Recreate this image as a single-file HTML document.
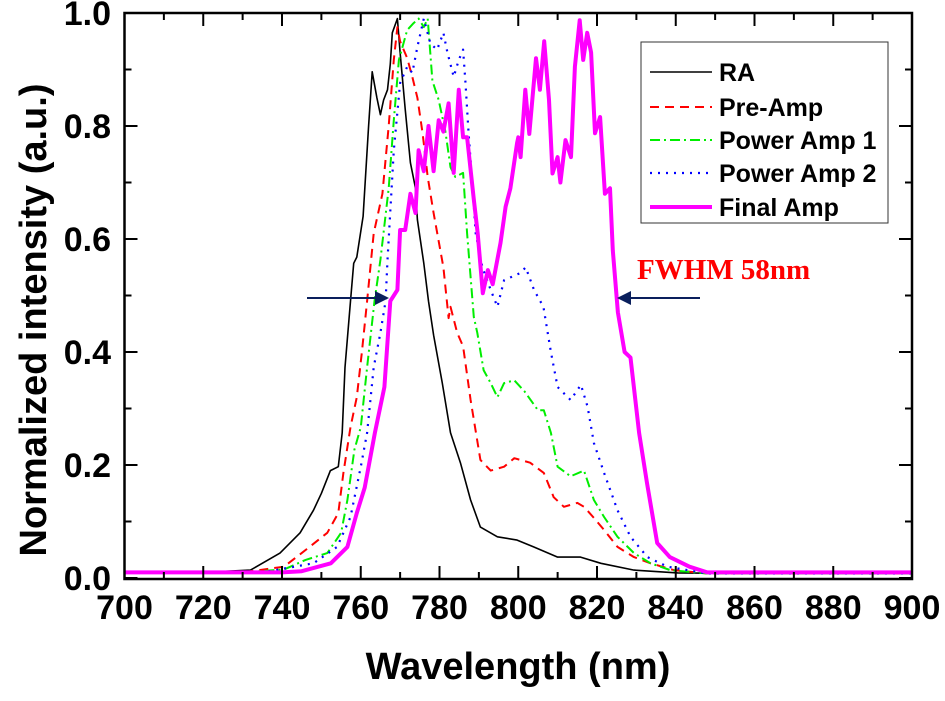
<!DOCTYPE html>
<html><head><meta charset="utf-8"><style>
html,body{margin:0;padding:0;background:#fff;}
svg text{font-family:"Liberation Sans",Arial,sans-serif;font-weight:bold;}
</style></head><body>
<svg id="chart" width="945" height="696" viewBox="0 0 945 696" xmlns="http://www.w3.org/2000/svg">
<g id="plot"></g>
<g id="axes"></g>
<g id="legend"></g>
<text x="518" y="679" font-size="38" text-anchor="middle">Wavelength (nm)</text>
<text transform="translate(46,320) rotate(-90)" font-size="38" text-anchor="middle">Normalized intensity (a.u.)</text>
<text x="637" y="279" font-size="29" fill="#ff0000" style="font-family:'Liberation Serif',serif">FWHM 58nm</text>
</svg>
<script>
const xTicks=[700,720,740,760,780,800,820,840,860,880,900];
const yTicks=[0.0,0.2,0.4,0.6,0.8,1.0];
const yTickLabels=["0.0","0.2","0.4","0.6","0.8","1.0"];
const seriesNames=["RA","Pre-Amp","Power Amp 1","Power Amp 2","Final Amp"];
const raX=[700,720,732,739.5,744.6,748,750,752.3,754.3,755.3,756,757.4,758.2,759,760.6,762,762.9,764.1,765,765.8,766.8,767.5,768,769.3,770,771.3,772.6,773.9,774.4,776,777.2,778.5,780.7,782.8,785.3,787.9,790.4,794.7,799.7,803.9,810,815.8,821,829.4,840.5,860,900];
const raY=[0.01,0.01,0.014,0.044,0.08,0.12,0.15,0.19,0.197,0.257,0.373,0.49,0.557,0.568,0.64,0.80,0.896,0.85,0.82,0.846,0.864,0.91,0.965,0.99,0.93,0.83,0.735,0.69,0.634,0.557,0.49,0.43,0.345,0.257,0.204,0.138,0.09,0.073,0.067,0.055,0.037,0.037,0.026,0.014,0.009,0.008,0.008];
const preX=[700,730,740.5,747,751.5,754.3,755.6,757.4,759,760.3,761.6,763.3,765.5,767.1,768.4,769.3,770,771.8,773.1,774.4,775.7,777,778.5,781,782.3,782.8,784.5,786,787.9,790.4,793,796.4,799,803,806.5,809,811.6,815,816.7,819,821.8,825.2,829.4,833.6,839.5,848,900];
const preY=[0.01,0.01,0.02,0.055,0.08,0.115,0.186,0.267,0.32,0.40,0.49,0.61,0.68,0.80,0.917,0.975,0.95,0.92,0.887,0.85,0.787,0.71,0.646,0.55,0.46,0.48,0.434,0.41,0.315,0.209,0.19,0.197,0.212,0.204,0.186,0.143,0.126,0.133,0.126,0.108,0.085,0.055,0.037,0.026,0.014,0.008,0.008];
const pa1X=[700,730,740.5,746,751.5,755,756.6,758.4,760,761.6,763.5,765,767.1,768.4,769.7,771.8,773.4,774.7,776,777,778.2,779.8,781.5,782.8,784,786,787,788.7,789.6,791.2,793,794.7,796.4,799,801.6,805,806.5,808.3,810,813.3,816.7,819.2,821.8,825.2,829.4,833.6,838.6,848,900];
const pa1Y=[0.01,0.01,0.015,0.032,0.044,0.08,0.138,0.227,0.267,0.373,0.49,0.563,0.69,0.81,0.917,0.97,0.982,0.99,0.975,0.99,0.88,0.846,0.79,0.727,0.71,0.717,0.61,0.462,0.434,0.368,0.345,0.32,0.345,0.35,0.33,0.297,0.297,0.257,0.197,0.18,0.19,0.138,0.108,0.073,0.044,0.026,0.014,0.008,0.008];
const pa2X=[700,735,748,754,757.4,760,761.6,763.3,765,766.3,766.8,768.4,770,771.8,773.1,774.4,776,777.7,779.4,781,782,783.6,784.9,786,786.6,787.4,788.3,789.2,790.9,793,794.7,796.4,800.6,801.9,804,806.4,808.3,810,813.3,815.9,817.6,819.2,821.8,825.2,828.5,832.8,837.9,848,900];
const pa2Y=[0.01,0.01,0.026,0.055,0.108,0.197,0.257,0.373,0.434,0.49,0.563,0.757,0.876,0.905,0.894,0.94,0.99,0.946,0.935,0.965,0.93,0.887,0.917,0.935,0.876,0.787,0.70,0.61,0.55,0.51,0.48,0.527,0.54,0.55,0.51,0.48,0.40,0.338,0.315,0.342,0.303,0.239,0.186,0.12,0.073,0.037,0.02,0.008,0.008];
const finX=[700,720,740,745,752.4,756.6,759,761,763.6,766,767.5,769.3,770,771.3,772.6,773.9,774.7,776,777.2,778.5,779.8,781,782.3,783.6,784.9,786,787,788.7,789.7,791,792.3,793.5,795.5,796.8,798,799.7,800,800.6,801.8,802.8,804.5,805.5,806.6,807.8,808.7,810,810.7,812,813.4,814.4,815.6,816.5,817.5,818.5,819.5,820.8,822,823.3,824,825.3,827,828.5,830.7,832.7,835.3,838.5,843.5,848,870,900];
const finY=[0.01,0.01,0.01,0.012,0.026,0.055,0.115,0.16,0.257,0.338,0.49,0.51,0.616,0.616,0.68,0.646,0.757,0.72,0.80,0.72,0.81,0.79,0.84,0.717,0.864,0.78,0.78,0.67,0.61,0.504,0.545,0.52,0.593,0.657,0.69,0.77,0.78,0.745,0.864,0.786,0.92,0.864,0.95,0.846,0.716,0.745,0.70,0.775,0.745,0.905,0.987,0.917,0.965,0.93,0.787,0.816,0.68,0.69,0.58,0.47,0.40,0.39,0.257,0.168,0.062,0.037,0.02,0.01,0.01,0.01];

const NS="http://www.w3.org/2000/svg";
const X0=124.5,X1=912,Y0=578,Y1=13;
function xs(v){return X0+(v-700)/(900-700)*(X1-X0);}
function ys(v){return Y0-(v-0)/(1-0)*(Y0-Y1);}
function mk(tag,attrs,parent){const e=document.createElementNS(NS,tag);for(const k in attrs)e.setAttribute(k,attrs[k]);parent.appendChild(e);return e;}
const plot=document.getElementById('plot'),axes=document.getElementById('axes'),legend=document.getElementById('legend');
const styles=[
 {c:"#000000",w:1.6,d:""},
 {c:"#ff0000",w:2,d:"9,6"},
 {c:"#00ee00",w:2,d:"10,4,2,4"},
 {c:"#0000ff",w:2.2,d:"2,6"},
 {c:"#ff00ff",w:4,d:""}];
const xsArr=[raX,preX,pa1X,pa2X,finX],ysArr=[raY,preY,pa1Y,pa2Y,finY];
const ids=["series-ra","series-pre-amp","series-power-amp-1","series-power-amp-2","series-final-amp"];
for(let s=0;s<5;s++){
 let d="";for(let i=0;i<xsArr[s].length;i++)d+=(i?"L":"M")+xs(xsArr[s][i]).toFixed(1)+","+ys(ysArr[s][i]).toFixed(1);
 const p=mk('path',{d:d,fill:"none",stroke:styles[s].c,"stroke-width":styles[s].w,"stroke-linejoin":"round"},plot);
 if(styles[s].d)p.setAttribute('stroke-dasharray',styles[s].d);
 
 
}
const a1=mk('g',{},plot);


mk('line',{x1:307,y1:298,x2:378,y2:298,stroke:"#0a1f5c","stroke-width":2},a1);
mk('polygon',{points:"389,298 375,291 375,305",fill:"#0a1f5c"},a1);
const a2=mk('g',{},plot);


mk('line',{x1:700,y1:298,x2:628,y2:298,stroke:"#0a1f5c","stroke-width":2},a2);
mk('polygon',{points:"617,298 631,291 631,305",fill:"#0a1f5c"},a2);
const fr=mk('rect',{x:X0,y:Y1,width:X1-X0,height:Y0-Y1+1,fill:"none",stroke:"#000","stroke-width":2.5},axes);


const YB=579;
for(let i=0;i<xTicks.length;i++){
 const x=xs(xTicks[i]);
 mk('line',{x1:x,y1:YB,x2:x,y2:YB-13,stroke:"#000","stroke-width":2},axes);
 mk('line',{x1:x,y1:Y1,x2:x,y2:Y1+13,stroke:"#000","stroke-width":2},axes);
 if(i<xTicks.length-1){const xm=xs(xTicks[i]+10);
  mk('line',{x1:xm,y1:YB,x2:xm,y2:YB-7,stroke:"#000","stroke-width":2},axes);
  mk('line',{x1:xm,y1:Y1,x2:xm,y2:Y1+7,stroke:"#000","stroke-width":2},axes);}
 const t=mk('text',{x:x,y:619,"font-size":34,"text-anchor":"middle"},axes);t.textContent=xTicks[i];
 
 
}
for(let i=0;i<yTicks.length;i++){
 const y=ys(yTicks[i]);
 mk('line',{x1:X0,y1:y,x2:X0+13,y2:y,stroke:"#000","stroke-width":2},axes);
 mk('line',{x1:X1,y1:y,x2:X1-13,y2:y,stroke:"#000","stroke-width":2},axes);
 if(i<yTicks.length-1){const ym=ys(yTicks[i]+0.1);
  mk('line',{x1:X0,y1:ym,x2:X0+7,y2:ym,stroke:"#000","stroke-width":2},axes);
  mk('line',{x1:X1,y1:ym,x2:X1-7,y2:ym,stroke:"#000","stroke-width":2},axes);}
 const t=mk('text',{x:111,y:y+12,"font-size":34,"text-anchor":"end"},axes);t.textContent=yTickLabels[i];
 
 
}
mk('rect',{x:641,y:42,width:247,height:181,fill:"#fff",stroke:"#333","stroke-width":1},legend);
const ly=[72,107,140,173,207];
for(let s=0;s<5;s++){
 const g=mk('g',{},legend);
 
 
 const l=mk('line',{x1:650,y1:ly[s],x2:712,y2:ly[s],stroke:styles[s].c,"stroke-width":styles[s].w},g);
 if(styles[s].d)l.setAttribute('stroke-dasharray',styles[s].d);
 const t=mk('text',{x:719,y:ly[s]+9,"font-size":25},g);t.textContent=seriesNames[s];
}
</script>
</body></html>
